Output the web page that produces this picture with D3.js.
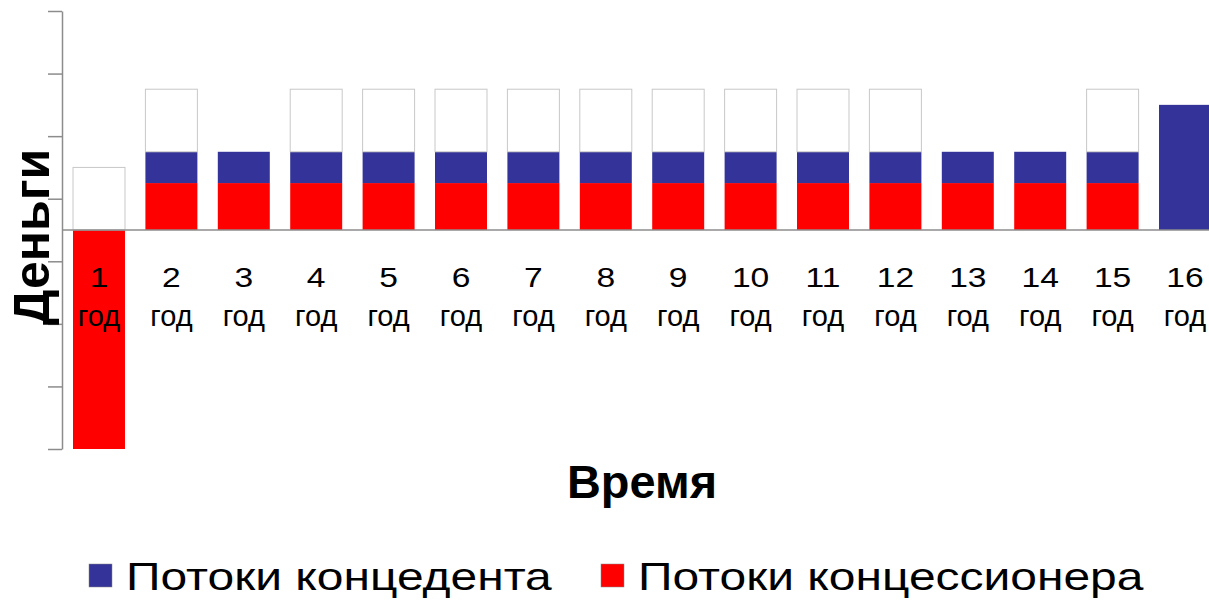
<!DOCTYPE html>
<html>
<head>
<meta charset="utf-8">
<script src="https://cdn.jsdelivr.net/npm/d3@7.9.0/dist/d3.min.js"></script>
<style>
  body { margin: 0; background: #fff; }
  svg { display: block; font-family: "Liberation Sans", Arial, sans-serif; }
</style>
</head>
<body>
<div id="chart"></div>
<script>
// data
const years = ["1", "2", "3", "4", "5", "6", "7", "8", "9", "10", "11", "12", "13", "14", "15", "16"];
const concessionaire = [-7, 1.5, 1.5, 1.5, 1.5, 1.5, 1.5, 1.5, 1.5, 1.5, 1.5, 1.5, 1.5, 1.5, 1.5, 0];
const grantor = [0, 1, 1, 1, 1, 1, 1, 1, 1, 1, 1, 1, 1, 1, 1, 4];
const blank = [2, 2, 0, 2, 2, 2, 2, 2, 2, 2, 2, 2, 0, 0, 2, 0];
const yTicks = [-7, -5, -3, -1, 1, 3, 5, 7];
const legendLabels = ["Потоки концедента", "Потоки концессионера"];

const W = 1209, H = 603;
const colors = { red: "#ff0000", blue: "#333399", white: "#ffffff" };

const rows = years.map((y, i) => ({ year: y, red: concessionaire[i], blue: grantor[i], white: blank[i] }));

const svg = d3.select("#chart").append("svg")
  .attr("width", W)
  .attr("height", H);

const x = d3.scaleBand()
  .domain(years)
  .range([62, 1222])
  .paddingInner(0.282)
  .paddingOuter(0.152);

const y = d3.scaleLinear()
  .domain([-7, 7])
  .range([449, 11]);

// y axis, ticks only
const yAxis = svg.append("g")
  .attr("transform", "translate(62,0)")
  .call(d3.axisLeft(y).tickValues(yTicks).tickSize(14).tickFormat("").tickSizeOuter(0));
yAxis.select(".domain").attr("stroke", "#8c8c8c").attr("stroke-width", 1.5);
yAxis.selectAll(".tick line").attr("stroke", "#8c8c8c").attr("stroke-width", 1.5);

// stacked bars
const stack = d3.stack()
  .keys(["red", "blue", "white"])
  .offset(d3.stackOffsetDiverging);
const series = stack(rows);

svg.append("g")
  .selectAll("g")
  .data(series)
  .join("g")
    .attr("fill", d => colors[d.key])
    .attr("stroke", d => d.key === "white" ? "#c8c8c8" : "none")
  .selectAll("rect")
  .data(d => d.filter(p => p[1] !== p[0]))
  .join("rect")
    .attr("x", d => x(d.data.year))
    .attr("width", x.bandwidth())
    .attr("y", d => y(d[1]))
    .attr("height", d => y(d[0]) - y(d[1]));

// zero line
svg.append("line")
  .attr("x1", 62).attr("x2", W)
  .attr("y1", y(0)).attr("y2", y(0))
  .attr("stroke", "#8c8c8c")
  .attr("stroke-width", 1.5);

// category labels
const labels = svg.append("g")
  .selectAll("g")
  .data(years)
  .join("g")
    .attr("transform", d => `translate(${x(d) + x.bandwidth() / 2},0)`);

labels.append("text")
  .attr("transform", "translate(0,287) scale(1.2,1)")
  .attr("text-anchor", "middle")
  .attr("font-size", 28)
  .text(d => d);

labels.append("text")
  .attr("y", 326)
  .attr("text-anchor", "middle")
  .attr("font-size", 29)
  .text("год");

// axis titles
svg.append("text")
  .attr("transform", "translate(49,237) rotate(-90)")
  .attr("text-anchor", "middle")
  .attr("font-size", 50)
  .attr("font-weight", "bold")
  .text("Деньги");

svg.append("text")
  .attr("x", 567)
  .attr("y", 498)
  .attr("font-size", 46)
  .attr("font-weight", "bold")
  .attr("textLength", 150)
  .attr("lengthAdjust", "spacingAndGlyphs")
  .text("Время");

// legend
const legendItems = [
  { label: legendLabels[0], color: colors.blue, x: 89 },
  { label: legendLabels[1], color: colors.red, x: 601 }
];
const legend = svg.append("g")
  .selectAll("g")
  .data(legendItems)
  .join("g")
    .attr("transform", d => `translate(${d.x},564)`);

legend.append("rect")
  .attr("width", 23)
  .attr("height", 23)
  .attr("fill", d => d.color)
  .attr("stroke", "#888")
  .attr("stroke-width", 0.5);

legend.append("text")
  .attr("transform", "translate(37,26) scale(1.23,1)")
  .attr("font-size", 39)
  .text(d => d.label);
</script>
</body>
</html>
